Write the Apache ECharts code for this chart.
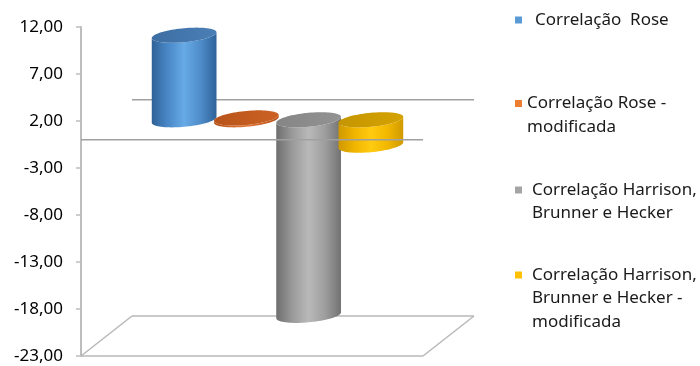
<!DOCTYPE html>
<html><head><meta charset="utf-8">
<script src="https://cdn.jsdelivr.net/npm/echarts@6/dist/echarts.min.js"></script>
<style>html,body{margin:0;padding:0;background:#fff}#c{width:700px;height:366px}</style>
</head><body><div id="c"></div>
<script>
// ---- data ----
const categories = ['Correlação'];
const seriesNames = ['Correlação  Rose', 'Correlação Rose - modificada', 'Correlação Harrison, Brunner e Hecker', 'Correlação Harrison, Brunner e Hecker - modificada'];
const legendLines = [['Correlação  Rose'], ['Correlação Rose -', 'modificada'], ['Correlação Harrison,', 'Brunner e Hecker'], ['Correlação Harrison,', 'Brunner e Hecker -', 'modificada']];
const seriesValues = [9.0, 0.2, -20.8, -2.7];
const yMin = -23, yMax = 12, yStep = 5;

// ---- style ----
const FONT = '"Noto Sans", "Open Sans", sans-serif';
const legendColors = ['#5b9bd5', '#ed7d31', '#a5a5a5', '#ffc000'];
const bodyStops = [
  ['#2f6296', '#4a88c8', '#66aae6', '#4f8dca', '#2f6399'],
  ['#b04e14', '#d0652a', '#e27a3c', '#d0652a', '#b04e14'],
  ['#6e6e6e', '#9a9a9a', '#b9b9b9', '#9e9e9e', '#727272'],
  ['#cf9800', '#f0b500', '#ffcb10', '#f2b800', '#d09a00']
];
const capColors = [['#3d6ea3', '#4a7fb6'], ['#b8541a', '#cc6224'], ['#858585', '#939393'], ['#c59500', '#d4a300']];
const DEPTH = [51, -40];
const CAT_GAP = 0.272;
const SHEAR = 0.09;
const RY = 7;
const N = seriesValues.length;

function grad(stops) {
  return { type: 'linear', x: 0, y: 0, x2: 1, y2: 0,
    colorStops: stops.map((c, k) => ({ offset: k / (stops.length - 1), color: c })) };
}
function ellPt(cx, cy, rx, ry, t) {
  return [cx + rx * Math.cos(t), cy + ry * Math.sin(t) - SHEAR * rx * Math.cos(t)];
}
function cylRender(i) {
  return function (params, api) {
    const v = api.value(1);
    const c0 = api.coord([api.value(0), 0]);
    const c1 = api.coord([api.value(0), v]);
    const band = api.size([1, 0])[0];
    const slot = band * (1 - CAT_GAP) / N;
    const cx = c0[0] + (i - (N - 1) / 2) * slot + DEPTH[0] / 2;
    const rx = slot * 0.52;
    const yTop = Math.min(c0[1], c1[1]) + DEPTH[1] / 2;
    const yBot = Math.max(c0[1], c1[1]) + DEPTH[1] / 2;
    const M = 40;
    const body = [];
    for (let k = 0; k <= M; k++) body.push(ellPt(cx, yBot, rx, RY, Math.PI * k / M));
    for (let k = M; k >= 0; k--) body.push(ellPt(cx, yTop, rx, RY, Math.PI * k / M));
    const cap = [];
    for (let k = 0; k < 2 * M; k++) cap.push(ellPt(cx, yTop, rx, RY, Math.PI * k / M));
    return { type: 'group', children: [
      { type: 'polygon', shape: { points: body }, style: { fill: grad(bodyStops[i]) } },
      { type: 'polygon', shape: { points: cap }, style: { fill: grad(capColors[i]) } }
    ] };
  };
}
function wallRender(front) {
  return function (params, api) {
    const cs = params.coordSys;
    const x0 = cs.x, x1 = cs.x + cs.width;
    const yZ = api.coord([0, 0])[1];
    const yF = api.coord([0, yMin])[1];
    const dx = DEPTH[0], dy = DEPTH[1];
    const ln = (a, b, c, d, col) => ({ type: 'line', shape: { x1: a, y1: b, x2: c, y2: d }, style: { stroke: col, lineWidth: 1.5 } });
    if (front) return { type: 'group', children: [ln(x0, yZ, x1, yZ, '#a0a0a0')] };
    return { type: 'group', children: [
      ln(x0, yF, x1, yF, '#b8b8b8'),
      ln(x0 + dx, yF + dy, x1 + dx, yF + dy, '#b8b8b8'),
      ln(x0, yF, x0 + dx, yF + dy, '#b8b8b8'),
      ln(x1, yF, x1 + dx, yF + dy, '#b8b8b8'),
      ln(x0 + dx, yZ + dy, x1 + dx, yZ + dy, '#a0a0a0')
    ] };
  };
}

const series = [
  { type: 'custom', name: 'back', renderItem: wallRender(false), data: [[0, 0]], z: 1, silent: true, clip: false }
];
seriesValues.forEach((v, i) => {
  series.push({ type: 'custom', name: seriesNames[i], renderItem: cylRender(i), data: [[0, v]], z: 2 + i, clip: false,
    itemStyle: { color: legendColors[i] } });
});
series.push({ type: 'custom', name: 'front', renderItem: wallRender(true), data: [[0, 0]], z: 10, silent: true, clip: false });

// legend drawn as text graphics
const legendTop = [20, 103.5, 190, 275];
const legendTextX = [535, 527, 532, 532];
const graphics = [];
legendLines.forEach((lines, i) => {
  graphics.push({ type: 'rect', left: 515, top: legendTop[i] - 3.5, shape: { width: 7, height: 7 }, style: { fill: legendColors[i] } });
  lines.forEach((t, j) => {
    graphics.push({ type: 'text', x: legendTextX[i], y: legendTop[i] + j * 23.5,
      style: { text: t, fill: '#1a1a1a', font: '17px ' + FONT, verticalAlign: 'middle', align: 'left' } });
  });
});

const chart = echarts.init(document.getElementById('c'), null, { renderer: 'canvas' });
chart.setOption({
  animation: false,
  backgroundColor: '#fff',
  grid: { left: 81, right: 277, top: 27, bottom: 10, containLabel: false, outerBoundsMode: 'none' },
  xAxis: { type: 'category', data: categories, show: false },
  yAxis: {
    type: 'value', min: yMin, max: yMax, interval: yStep,
    axisLine: { show: true, lineStyle: { color: '#bdbdbd', width: 2 } },
    axisTick: { show: true, length: 5, lineStyle: { color: '#bdbdbd', width: 1.5 } },
    splitLine: { show: false },
    axisLabel: { margin: 18, color: '#000', fontSize: 17, fontFamily: FONT,
      formatter: v => v.toFixed(2).replace('.', ',') }
  },
  series: series,
  graphic: graphics
});
</script></body></html>
